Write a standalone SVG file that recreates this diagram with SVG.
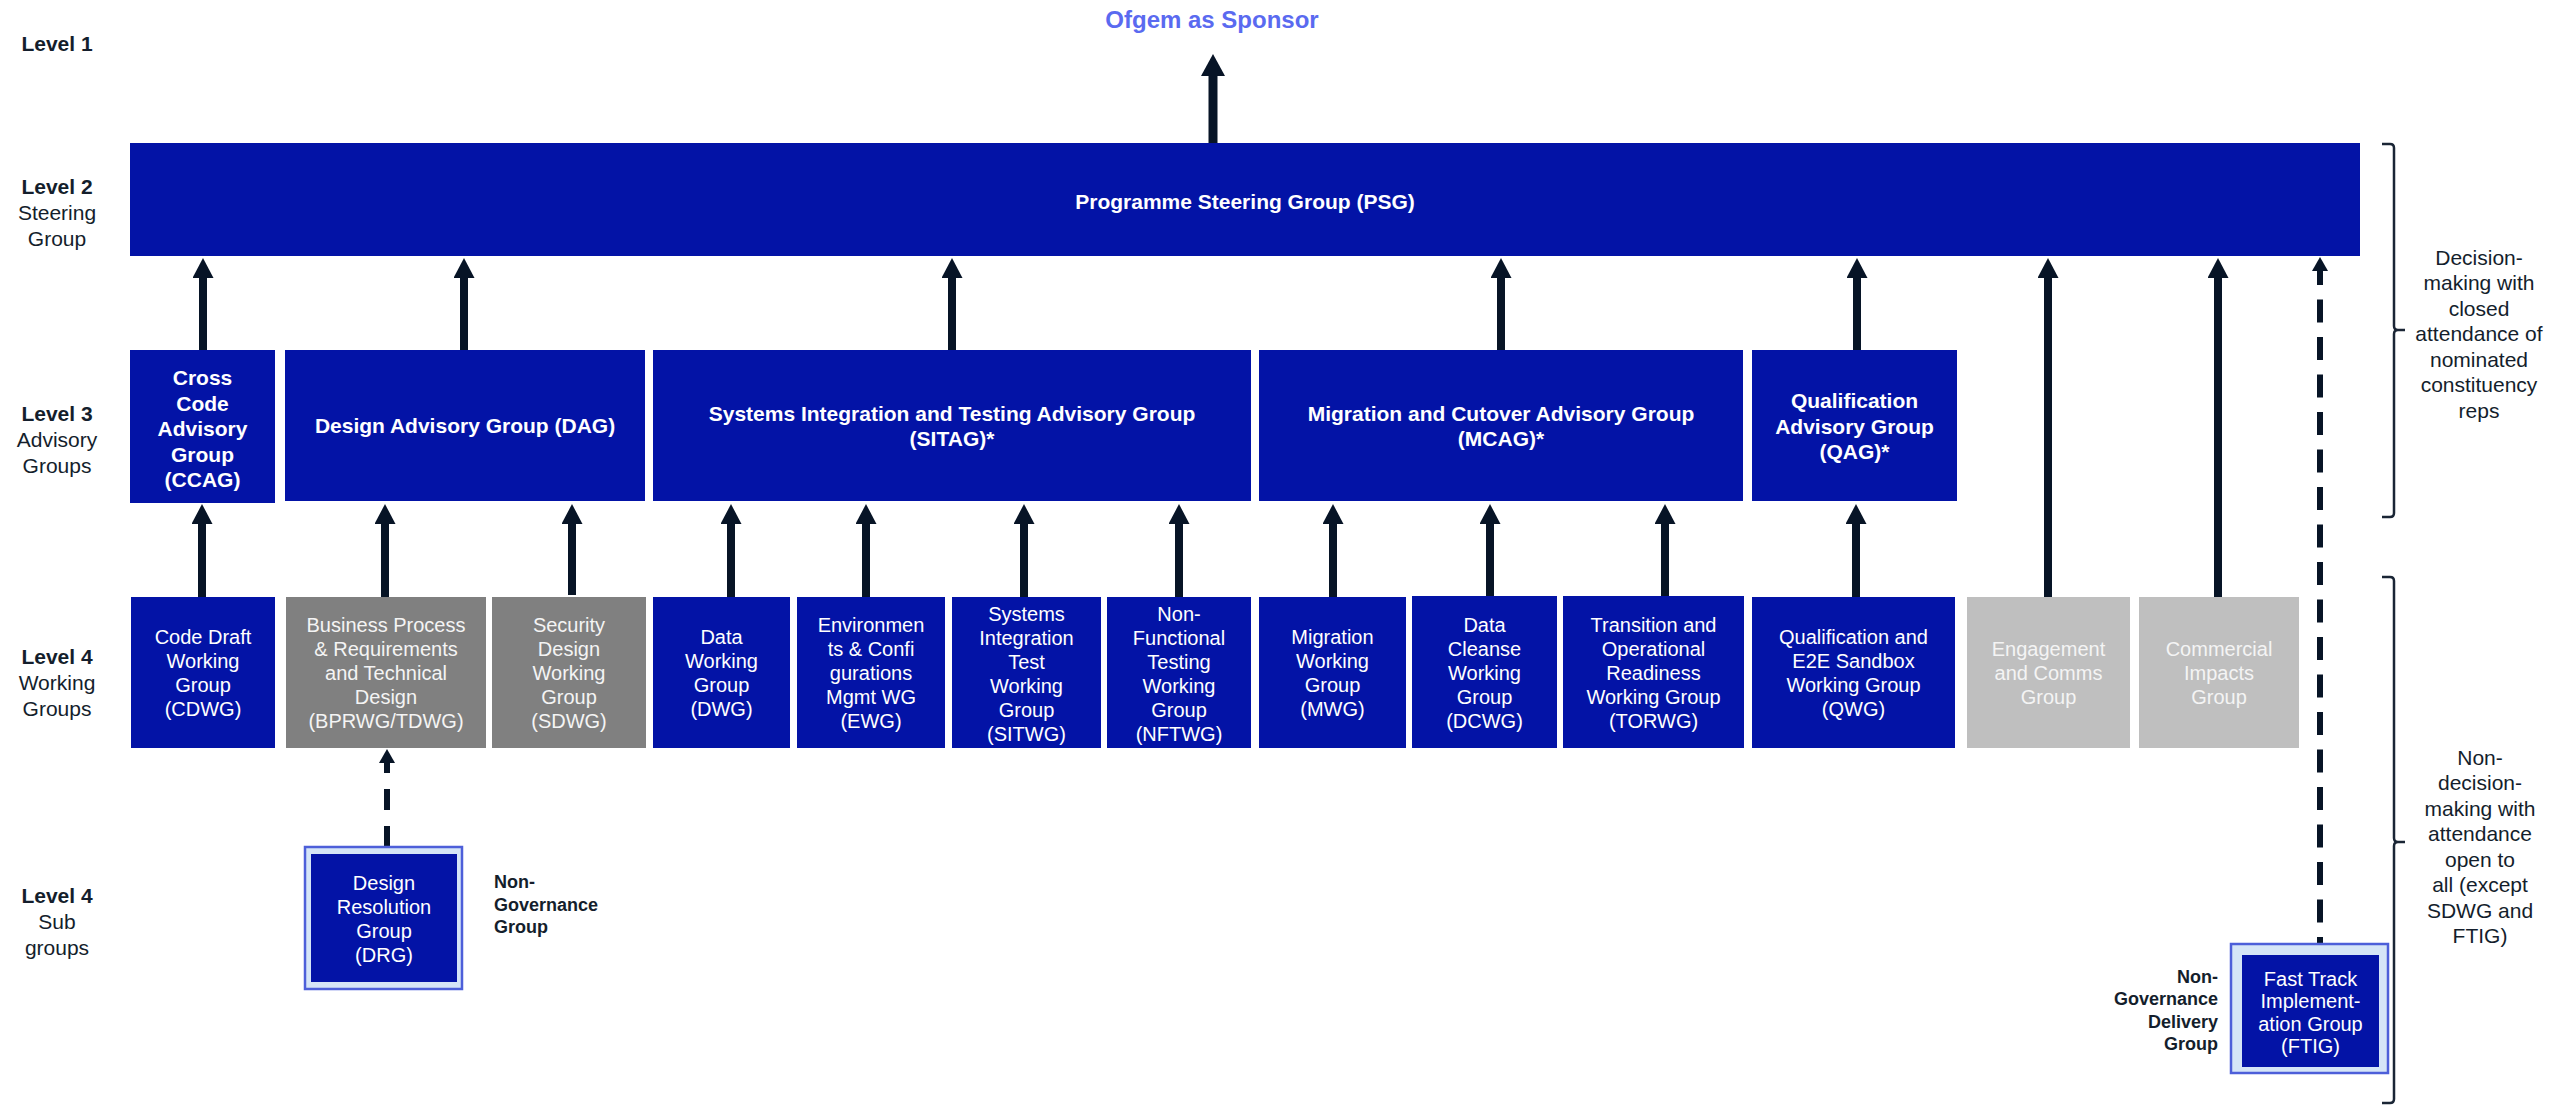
<svg xmlns="http://www.w3.org/2000/svg" width="2552" height="1110" viewBox="0 0 2552 1110">
<defs>
<style>
.b{fill:#0313a6}
.g{fill:#808080}
.lg{fill:#bfbfbf}
.t4{font-family:"Liberation Sans",Arial,sans-serif;font-size:20px;fill:#ffffff;text-anchor:middle}
.t4g{font-family:"Liberation Sans",Arial,sans-serif;font-size:20px;fill:#f4f4f4;text-anchor:middle}
.t3{font-family:"Liberation Sans",Arial,sans-serif;font-size:21px;font-weight:bold;fill:#ffffff;text-anchor:middle}
.lbl{font-family:"Liberation Sans",Arial,sans-serif;font-size:21px;fill:#141e2c;text-anchor:middle}
.lblb{font-weight:bold}
.ng{font-family:"Liberation Sans",Arial,sans-serif;font-size:18px;font-weight:bold;fill:#141e2c}
.arr{stroke:#071426;stroke-width:8;fill:none;marker-end:url(#ah)}
.darr{stroke:#071426;stroke-width:6;fill:none;stroke-dasharray:21 16;marker-end:url(#ahs)}
.brk{stroke:#1a2535;stroke-width:2.5;fill:none}
.outer{fill:#d5e5f7;stroke:#4d5fd9;stroke-width:2.5}
</style>
<marker id="ah" markerUnits="userSpaceOnUse" markerWidth="20" markerHeight="21" viewBox="0 0 20 21" refX="1" refY="10.5" orient="auto"><path d="M0,0 L20,10.5 L0,21 Z" fill="#071426"/></marker>
<marker id="ahl" markerUnits="userSpaceOnUse" markerWidth="22" markerHeight="24" viewBox="0 0 22 24" refX="1" refY="12" orient="auto"><path d="M0,0 L22,12 L0,24 Z" fill="#071426"/></marker>
<marker id="ahs" markerUnits="userSpaceOnUse" markerWidth="14" markerHeight="16" viewBox="0 0 14 16" refX="1" refY="8" orient="auto"><path d="M0,0 L14,8 L0,16 Z" fill="#071426"/></marker>
</defs>

<g id="level-labels">
<text class="lbl lblb" x="57" y="51">Level 1</text>
<text class="lbl" x="57"><tspan class="lblb" x="57" y="194">Level 2</tspan><tspan x="57" y="220">Steering</tspan><tspan x="57" y="246">Group</tspan></text>
<text class="lbl" x="57"><tspan class="lblb" x="57" y="421">Level 3</tspan><tspan x="57" y="447">Advisory</tspan><tspan x="57" y="473">Groups</tspan></text>
<text class="lbl" x="57"><tspan class="lblb" x="57" y="664">Level 4</tspan><tspan x="57" y="690">Working</tspan><tspan x="57" y="716">Groups</tspan></text>
<text class="lbl" x="57"><tspan class="lblb" x="57" y="903">Level 4</tspan><tspan x="57" y="929">Sub</tspan><tspan x="57" y="955">groups</tspan></text>
</g>

<g id="ofgem">
<text x="1212" y="28" font-family="Liberation Sans, Arial, sans-serif" font-size="24" font-weight="bold" fill="#5a6af0" text-anchor="middle">Ofgem as Sponsor</text>
</g>

<g id="connectors">
<line x1="1213" y1="143" x2="1213" y2="75" stroke="#071426" stroke-width="9" marker-end="url(#ahl)"/>
<line class="arr" x1="203" y1="350" x2="203" y2="277"/>
<line class="arr" x1="464" y1="350" x2="464" y2="277"/>
<line class="arr" x1="952" y1="350" x2="952" y2="277"/>
<line class="arr" x1="1501" y1="350" x2="1501" y2="277"/>
<line class="arr" x1="1857" y1="350" x2="1857" y2="277"/>
<line class="arr" x1="2048" y1="597" x2="2048" y2="277"/>
<line class="arr" x1="2218" y1="597" x2="2218" y2="277"/>
<line class="arr" x1="202" y1="597" x2="202" y2="523"/>
<line class="arr" x1="385" y1="597" x2="385" y2="523"/>
<line class="arr" x1="572" y1="595" x2="572" y2="523"/>
<line class="arr" x1="731" y1="597" x2="731" y2="523"/>
<line class="arr" x1="866" y1="597" x2="866" y2="523"/>
<line class="arr" x1="1024" y1="597" x2="1024" y2="523"/>
<line class="arr" x1="1179" y1="597" x2="1179" y2="523"/>
<line class="arr" x1="1333" y1="597" x2="1333" y2="523"/>
<line class="arr" x1="1490" y1="597" x2="1490" y2="523"/>
<line class="arr" x1="1665" y1="597" x2="1665" y2="523"/>
<line class="arr" x1="1856" y1="597" x2="1856" y2="523"/>
<path class="darr" d="M387,847 L387,762"/>
<path class="darr" d="M2320,944 L2320,270" style="stroke-dasharray:23 14.5;stroke-dashoffset:16"/>
</g>

<g id="psg">
<rect class="b" x="130" y="143" width="2230" height="113"/>
<text class="t3" x="1245" y="209" font-size="23">Programme Steering Group (PSG)</text>
</g>

<g id="ccag">
<rect class="b" x="130" y="350" width="145" height="153"/>
<text class="t3"><tspan x="202.5" y="385">Cross</tspan><tspan x="202.5" y="410.5">Code</tspan><tspan x="202.5" y="436">Advisory</tspan><tspan x="202.5" y="461.5">Group</tspan><tspan x="202.5" y="487">(CCAG)</tspan></text>
</g>
<g id="dag">
<rect class="b" x="285" y="350" width="360" height="151"/>
<text class="t3" x="465" y="433">Design Advisory Group (DAG)</text>
</g>
<g id="sitag">
<rect class="b" x="653" y="350" width="598" height="151"/>
<text class="t3"><tspan x="952" y="421">Systems Integration and Testing Advisory Group</tspan><tspan x="952" y="446">(SITAG)*</tspan></text>
</g>
<g id="mcag">
<rect class="b" x="1259" y="350" width="484" height="151"/>
<text class="t3"><tspan x="1501" y="421">Migration and Cutover Advisory Group</tspan><tspan x="1501" y="446">(MCAG)*</tspan></text>
</g>
<g id="qag">
<rect class="b" x="1752" y="350" width="205" height="151"/>
<text class="t3"><tspan x="1854.5" y="408">Qualification</tspan><tspan x="1854.5" y="433.5">Advisory Group</tspan><tspan x="1854.5" y="459">(QAG)*</tspan></text>
</g>

<g id="cdwg">
<rect class="b" x="131" y="597" width="144" height="151"/>
<text class="t4"><tspan x="203" y="644">Code Draft</tspan><tspan x="203" y="668">Working</tspan><tspan x="203" y="692">Group</tspan><tspan x="203" y="716">(CDWG)</tspan></text>
</g>
<g id="bprwg">
<rect class="g" x="286" y="597" width="200" height="151"/>
<text class="t4g"><tspan x="386" y="632">Business Process</tspan><tspan x="386" y="656">&amp; Requirements</tspan><tspan x="386" y="680">and Technical</tspan><tspan x="386" y="704">Design</tspan><tspan x="386" y="728">(BPRWG/TDWG)</tspan></text>
</g>
<g id="sdwg">
<rect class="g" x="492" y="597" width="154" height="151"/>
<text class="t4g"><tspan x="569" y="632">Security</tspan><tspan x="569" y="656">Design</tspan><tspan x="569" y="680">Working</tspan><tspan x="569" y="704">Group</tspan><tspan x="569" y="728">(SDWG)</tspan></text>
</g>
<g id="dwg">
<rect class="b" x="653" y="597" width="137" height="151"/>
<text class="t4"><tspan x="721.5" y="644">Data</tspan><tspan x="721.5" y="668">Working</tspan><tspan x="721.5" y="692">Group</tspan><tspan x="721.5" y="716">(DWG)</tspan></text>
</g>
<g id="ewg">
<rect class="b" x="797" y="597" width="148" height="151"/>
<text class="t4"><tspan x="871" y="632">Environmen</tspan><tspan x="871" y="656">ts &amp; Confi</tspan><tspan x="871" y="680">gurations</tspan><tspan x="871" y="704">Mgmt WG</tspan><tspan x="871" y="728">(EWG)</tspan></text>
</g>
<g id="sitwg">
<rect class="b" x="952" y="597" width="149" height="151"/>
<text class="t4"><tspan x="1026.5" y="621">Systems</tspan><tspan x="1026.5" y="645">Integration</tspan><tspan x="1026.5" y="669">Test</tspan><tspan x="1026.5" y="693">Working</tspan><tspan x="1026.5" y="717">Group</tspan><tspan x="1026.5" y="741">(SITWG)</tspan></text>
</g>
<g id="nftwg">
<rect class="b" x="1107" y="597" width="144" height="151"/>
<text class="t4"><tspan x="1179" y="621">Non-</tspan><tspan x="1179" y="645">Functional</tspan><tspan x="1179" y="669">Testing</tspan><tspan x="1179" y="693">Working</tspan><tspan x="1179" y="717">Group</tspan><tspan x="1179" y="741">(NFTWG)</tspan></text>
</g>
<g id="mwg">
<rect class="b" x="1259" y="597" width="147" height="151"/>
<text class="t4"><tspan x="1332.5" y="644">Migration</tspan><tspan x="1332.5" y="668">Working</tspan><tspan x="1332.5" y="692">Group</tspan><tspan x="1332.5" y="716">(MWG)</tspan></text>
</g>
<g id="dcwg">
<rect class="b" x="1412" y="596" width="145" height="152"/>
<text class="t4"><tspan x="1484.5" y="632">Data</tspan><tspan x="1484.5" y="656">Cleanse</tspan><tspan x="1484.5" y="680">Working</tspan><tspan x="1484.5" y="704">Group</tspan><tspan x="1484.5" y="728">(DCWG)</tspan></text>
</g>
<g id="torwg">
<rect class="b" x="1563" y="596" width="181" height="152"/>
<text class="t4"><tspan x="1653.5" y="632">Transition and</tspan><tspan x="1653.5" y="656">Operational</tspan><tspan x="1653.5" y="680">Readiness</tspan><tspan x="1653.5" y="704">Working Group</tspan><tspan x="1653.5" y="728">(TORWG)</tspan></text>
</g>
<g id="qwg">
<rect class="b" x="1752" y="597" width="203" height="151"/>
<text class="t4"><tspan x="1853.5" y="644">Qualification and</tspan><tspan x="1853.5" y="668">E2E Sandbox</tspan><tspan x="1853.5" y="692">Working Group</tspan><tspan x="1853.5" y="716">(QWG)</tspan></text>
</g>
<g id="engagement">
<rect class="lg" x="1967" y="597" width="163" height="151"/>
<text class="t4g"><tspan x="2048.5" y="656">Engagement</tspan><tspan x="2048.5" y="680">and Comms</tspan><tspan x="2048.5" y="704">Group</tspan></text>
</g>
<g id="commercial">
<rect class="lg" x="2139" y="597" width="160" height="151"/>
<text class="t4g"><tspan x="2219" y="656">Commercial</tspan><tspan x="2219" y="680">Impacts</tspan><tspan x="2219" y="704">Group</tspan></text>
</g>

<g id="drg">
<rect class="outer" x="305" y="847" width="157" height="142"/>
<rect class="b" x="311" y="854" width="146" height="128"/>
<text class="t4"><tspan x="384" y="890">Design</tspan><tspan x="384" y="914">Resolution</tspan><tspan x="384" y="938">Group</tspan><tspan x="384" y="962">(DRG)</tspan></text>
</g>
<text class="ng"><tspan x="494" y="888">Non-</tspan><tspan x="494" y="910.5">Governance</tspan><tspan x="494" y="933">Group</tspan></text>

<g id="ftig">
<rect class="outer" x="2231" y="944" width="157" height="129"/>
<rect class="b" x="2242" y="955" width="137" height="112"/>
<text class="t4" font-size="18.5"><tspan x="2310.5" y="985.5">Fast Track</tspan><tspan x="2310.5" y="1008">Implement-</tspan><tspan x="2310.5" y="1030.5">ation Group</tspan><tspan x="2310.5" y="1053">(FTIG)</tspan></text>
</g>
<text class="ng" text-anchor="end"><tspan x="2218" y="982.5">Non-</tspan><tspan x="2218" y="1005">Governance</tspan><tspan x="2218" y="1027.5">Delivery</tspan><tspan x="2218" y="1050">Group</tspan></text>

<g id="brackets">
<path class="brk" d="M2382,144 L2390,144 Q2394,144 2394,148 L2394,326 Q2394,330 2398,330 L2405,330 M2398,330 Q2394,330 2394,334 L2394,513 Q2394,517 2390,517 L2382,517"/>
<path class="brk" d="M2382,577 L2390,577 Q2394,577 2394,581 L2394,838 Q2394,842 2398,842 L2405,842 M2398,842 Q2394,842 2394,846 L2394,1099 Q2394,1103 2390,1103 L2382,1103"/>
<text class="lbl"><tspan x="2479" y="264.5">Decision-</tspan><tspan x="2479" y="290">making with</tspan><tspan x="2479" y="315.5">closed</tspan><tspan x="2479" y="341">attendance of</tspan><tspan x="2479" y="366.5">nominated</tspan><tspan x="2479" y="392">constituency</tspan><tspan x="2479" y="417.5">reps</tspan></text>
<text class="lbl"><tspan x="2480" y="764.5">Non-</tspan><tspan x="2480" y="790">decision-</tspan><tspan x="2480" y="815.5">making with</tspan><tspan x="2480" y="841">attendance</tspan><tspan x="2480" y="866.5">open to</tspan><tspan x="2480" y="892">all (except</tspan><tspan x="2480" y="917.5">SDWG and</tspan><tspan x="2480" y="943">FTIG)</tspan></text>
</g>
</svg>
